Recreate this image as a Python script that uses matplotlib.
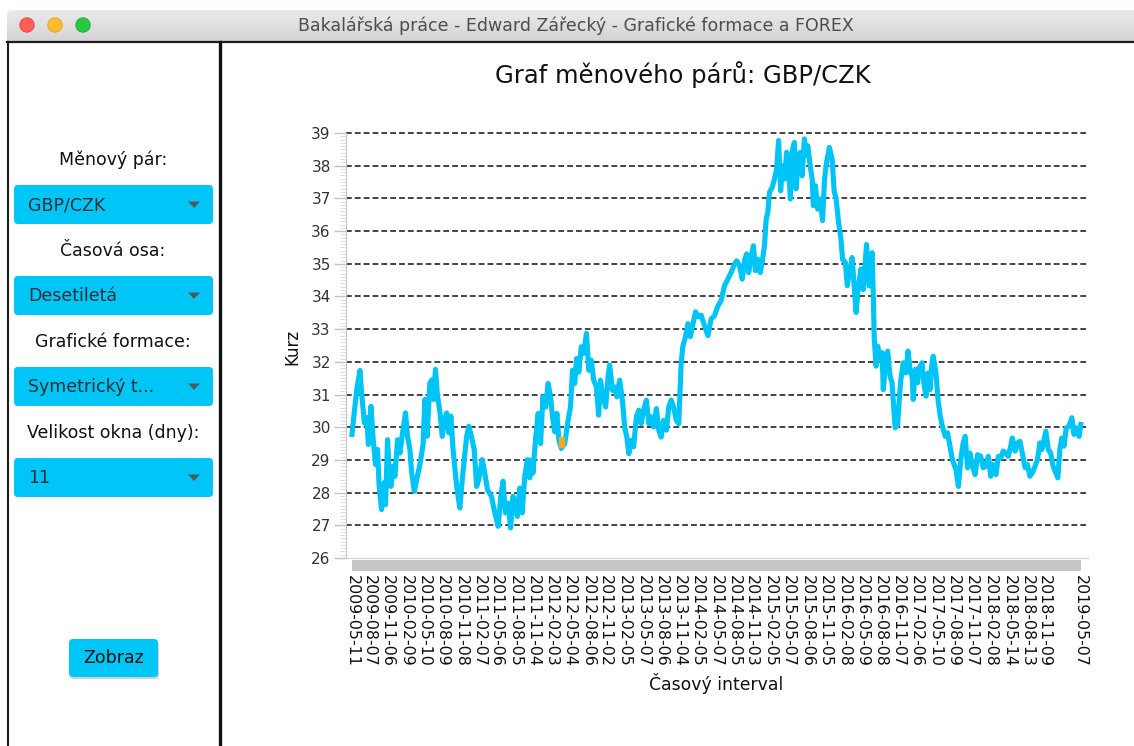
import numpy as np
import pandas as pd
import matplotlib
matplotlib.use('Agg')
import matplotlib.pyplot as plt
import matplotlib.transforms as mtransforms
from matplotlib.patches import FancyBboxPatch, Circle, Polygon, Rectangle
from matplotlib.colors import LinearSegmentedColormap
from matplotlib.ticker import MultipleLocator

# kurz GBP/CZK (dny od prvniho data)
start = pd.Timestamp('2009-05-11')
day_offsets = [
    0, 12, 24, 40, 48, 62, 74, 82, 95, 106,
    118, 128, 136, 148, 160, 168, 178, 185, 195, 206,
    215, 228, 240, 252, 268, 278, 290, 298, 312, 324,
    340, 356, 365, 376, 390, 402, 408, 418, 428, 440,
    452, 462, 474, 485, 495, 506, 524, 540, 552, 562,
    574, 585, 598, 612, 624, 635, 652, 665, 678, 698,
    715, 732, 745, 756, 768, 782, 794, 806, 818, 828,
    840, 852, 865, 878, 890, 898, 906, 920, 932, 944,
    956, 970, 982, 994, 1004, 1015, 1026, 1036, 1048, 1065,
    1082, 1094, 1104, 1115, 1124, 1136, 1148, 1160, 1174, 1186,
    1198, 1210, 1224, 1235, 1244, 1256, 1270, 1282, 1290, 1304,
    1315, 1326, 1340, 1354, 1365, 1376, 1386, 1398, 1410, 1424,
    1436, 1448, 1460, 1474, 1486, 1498, 1510, 1524, 1536, 1548,
    1560, 1574, 1586, 1598, 1610, 1624, 1636, 1648, 1656, 1670,
    1682, 1694, 1706, 1720, 1732, 1748, 1760, 1782, 1798, 1815,
    1832, 1848, 1865, 1882, 1898, 1915, 1926, 1940, 1954, 1965,
    1976, 1986, 1998, 2010, 2020, 2032, 2044, 2056, 2065, 2074,
    2082, 2090, 2104, 2115, 2126, 2136, 2146, 2156, 2166, 2176,
    2186, 2195, 2204, 2215, 2224, 2234, 2244, 2254, 2265, 2274,
    2282, 2294, 2304, 2310, 2320, 2332, 2344, 2356, 2366, 2376,
    2390, 2404, 2414, 2424, 2436, 2448, 2456, 2470, 2480, 2490,
    2504, 2514, 2524, 2536, 2548, 2560, 2576, 2590, 2604, 2610,
    2615, 2624, 2632, 2644, 2654, 2660, 2670, 2682, 2694, 2704,
    2714, 2720, 2732, 2740, 2748, 2760, 2774, 2784, 2794, 2804,
    2810, 2820, 2832, 2840, 2854, 2865, 2874, 2884, 2894, 2904,
    2910, 2924, 2934, 2945, 2956, 2970, 2982, 2994, 3006, 3024,
    3036, 3048, 3060, 3070, 3082, 3094, 3106, 3120, 3132, 3148,
    3160, 3174, 3186, 3198, 3210, 3224, 3236, 3248, 3260, 3274,
    3286, 3298, 3306, 3320, 3332, 3344, 3356, 3370, 3382, 3394,
    3406, 3420, 3432, 3444, 3454, 3465, 3474, 3486, 3498, 3510,
    3524, 3534, 3544, 3554, 3565, 3576, 3590, 3604, 3615, 3626,
    3640, 3649,
]
kurz = [
    29.78, 30.49, 31.15, 31.74, 31.05, 30.13, 30.29, 29.47, 30.64, 29.62,
    28.86, 29.32, 28.19, 27.48, 28.30, 27.63, 29.62, 28.81, 28.19, 28.81,
    28.50, 29.62, 29.21, 29.78, 30.44, 29.72, 29.32, 28.65, 28.04, 28.40,
    28.86, 29.47, 30.85, 29.72, 31.36, 31.46, 30.85, 31.77, 30.95, 30.49,
    29.72, 30.23, 30.44, 29.83, 30.34, 29.32, 28.19, 27.53, 28.40, 29.01,
    29.72, 30.03, 29.72, 29.32, 28.19, 28.40, 29.01, 28.60, 28.09, 27.89,
    27.38, 26.97, 27.89, 28.35, 27.38, 27.68, 26.92, 27.89, 27.58, 27.27,
    28.14, 27.38, 28.50, 29.01, 28.45, 28.99, 28.60, 29.70, 30.42, 29.50,
    30.93, 30.62, 31.34, 30.93, 30.32, 29.86, 30.42, 29.60, 29.35, 29.50,
    30.21, 30.62, 31.74, 31.34, 32.10, 31.69, 32.46, 32.26, 32.87, 31.74,
    32.05, 31.44, 31.23, 30.37, 31.44, 30.93, 30.62, 31.54, 31.90, 31.13,
    31.23, 30.93, 31.44, 30.83, 30.01, 29.70, 29.19, 29.60, 29.40, 30.32,
    30.52, 30.11, 30.52, 30.83, 30.11, 30.32, 30.01, 30.57, 29.91, 29.70,
    30.21, 29.91, 30.62, 30.83, 30.62, 30.21, 30.11, 31.95, 32.46, 32.77,
    33.17, 32.77, 33.12, 33.53, 33.38, 33.43, 33.20, 32.80, 33.31, 33.41,
    33.71, 33.87, 34.33, 34.53, 34.73, 34.99, 35.09, 34.94, 34.53, 35.09,
    35.30, 34.73, 35.19, 35.55, 34.79, 35.14, 34.73, 35.14, 35.55, 36.37,
    36.57, 37.18, 37.34, 37.59, 37.90, 38.77, 37.23, 38.00, 37.59, 38.41,
    37.90, 36.98, 38.46, 38.71, 37.29, 38.20, 38.41, 37.69, 38.82, 38.31,
    38.61, 38.00, 37.59, 36.78, 37.39, 36.67, 36.98, 36.32, 37.59, 38.10,
    38.56, 38.20, 37.23, 36.98, 36.27, 35.76, 35.14, 35.04, 34.33, 34.73,
    35.19, 34.33, 33.51, 34.33, 34.84, 34.21, 35.59, 34.32, 35.34, 34.01,
    32.68, 31.87, 32.48, 32.07, 32.28, 31.15, 31.87, 32.33, 31.56, 31.36,
    30.44, 29.98, 30.08, 30.85, 31.46, 31.97, 31.66, 32.33, 31.77, 31.56,
    30.85, 31.77, 31.36, 31.82, 31.97, 31.26, 30.95, 31.66, 31.15, 31.97,
    32.17, 31.66, 30.85, 30.34, 30.03, 29.72, 29.83, 29.42, 29.01, 28.70,
    28.19, 29.01, 29.52, 29.72, 28.76, 29.21, 28.81, 28.55, 29.16, 29.11,
    28.76, 28.81, 29.11, 28.50, 28.86, 28.55, 29.11, 29.06, 29.27, 29.21,
    29.11, 29.42, 29.67, 29.27, 29.52, 29.57, 29.21, 28.76, 28.86, 28.50,
    28.60, 28.81, 29.01, 29.52, 29.32, 29.62, 29.88, 29.32, 29.21, 28.81,
    28.60, 28.45, 29.32, 29.67, 29.42, 29.98, 30.03, 30.29, 29.78, 29.98,
    29.72, 30.08,
]
# nalezena formace (oranzova znacka)
pattern_day = 1052
pattern_kurz = [29.38, 29.70]

tick_labels = [
    '2009-05-11', '2009-08-07', '2009-11-06', '2010-02-09', '2010-05-10',
    '2010-08-09', '2010-11-08', '2011-02-07', '2011-05-06', '2011-08-05',
    '2011-11-04', '2012-02-03', '2012-05-04', '2012-08-06', '2012-11-02',
    '2013-02-05', '2013-05-07', '2013-08-06', '2013-11-04', '2014-02-05',
    '2014-05-07', '2014-08-05', '2014-11-03', '2015-02-05', '2015-05-07',
    '2015-08-06', '2015-11-05', '2016-02-08', '2016-05-09', '2016-08-08',
    '2016-11-07', '2017-02-06', '2017-05-10', '2017-08-09', '2017-11-07',
    '2018-02-08', '2018-05-14', '2018-08-13', '2018-11-09', '2019-05-07',
]
y_ticks = list(range(26, 40))

window_title = 'Bakalářská práce - Edward Zářecký - Grafické formace a FOREX'
side_labels = ['Měnový pár:', 'Časová osa:', 'Grafické formace:', 'Velikost okna (dny):']
combo_values = ['GBP/CZK', 'Desetiletá', 'Symetrický t...', '11']

CYAN = '#00c6f8'
LINE = '#00c4f6'

assert len(day_offsets) == len(kurz)
dates = start + pd.to_timedelta(day_offsets, unit='D')
tick_dates = pd.to_datetime(tick_labels)

fig = plt.figure(figsize=(11.34, 7.46), dpi=100)
fig.patch.set_facecolor('white')

# okno aplikace (pixelove souradnice)
bg = fig.add_axes([0, 0, 1, 1], zorder=0)
bg.set_xlim(0, 1134)
bg.set_ylim(746, 0)
bg.axis('off')

bar = FancyBboxPatch((7, 10), 1140, 45, boxstyle='round,pad=0,rounding_size=6',
                     fc='none', ec='none', transform=bg.transData)
bg.add_patch(bar)
grad = np.linspace(0, 1, 40).reshape(-1, 1)
tb_cmap = LinearSegmentedColormap.from_list('tb', ['#ebe9eb', '#d4d2d4'])
im = bg.imshow(grad, extent=[7, 1134, 42, 10], aspect='auto', cmap=tb_cmap, zorder=1)
im.set_clip_path(bar)

for cx, fc, ec in [(27, '#fe5f57', '#e1443e'), (55, '#febc2e', '#dea123'), (83, '#28c840', '#1aab29')]:
    bg.add_patch(Circle((cx, 25), 7.2, fc=fc, ec=ec, lw=0.6, zorder=3))
bg.text(576, 26, window_title, ha='center', va='center', fontsize=12.5, color='#4d4d4d', zorder=3)

bg.plot([7, 1134], [42, 42], color='#1c1c1c', lw=1.6, zorder=3)
bg.plot([8, 8], [42, 746], color='#1c1c1c', lw=1.5, zorder=3)
bg.plot([220, 220], [42, 746], color='#111111', lw=2.4, zorder=3)

# levy panel
for i, (lab, val) in enumerate(zip(side_labels, combo_values)):
    y0 = 185 + i * 91
    bg.text(113, y0 - 25, lab, ha='center', va='center', fontsize=12.5, color='#111111')
    bg.add_patch(FancyBboxPatch((14, y0), 199, 39, boxstyle='round,pad=0,rounding_size=4',
                                fc=CYAN, ec='none', zorder=2))
    bg.text(28, y0 + 20, val, ha='left', va='center', fontsize=12.5, color='#2b2f33', zorder=3)
    bg.add_patch(Polygon([(188, y0 + 16.5), (200, y0 + 16.5), (194, y0 + 23)],
                         closed=True, fc='#4b5a63', ec='none', zorder=3))

bg.add_patch(FancyBboxPatch((70, 641), 89, 38, boxstyle='round,pad=0,rounding_size=4',
                            fc='black', ec='none', alpha=0.18, zorder=2))
bg.add_patch(FancyBboxPatch((69, 639), 89, 38, boxstyle='round,pad=0,rounding_size=4',
                            fc=CYAN, ec='none', zorder=2))
bg.text(113.5, 658, 'Zobraz', ha='center', va='center', fontsize=12.5, color='#111111', zorder=3)

# graf
bg.text(683, 75, 'Graf měnového párů: GBP/CZK', ha='center', va='center', fontsize=17.5, color='#111111')
bg.text(292, 347, 'Kurz', ha='center', va='center', rotation=90, fontsize=12, color='#111111')
bg.text(716, 684, 'Časový interval', ha='center', va='center', fontsize=12.4, color='#111111')

ax = fig.add_axes([346 / 1134, 1 - 558 / 746, 742 / 1134, 425 / 746], zorder=2)
ax.patch.set_alpha(0)

ax.plot(dates, kurz, color=LINE, lw=3.7, solid_joinstyle='round', zorder=3)
ax.plot([start + pd.Timedelta(days=pattern_day)] * 2, pattern_kurz, color='#f5a623',
        lw=4.5, solid_capstyle='butt', zorder=4)

ax.set_ylim(26, 39)
ax.set_xlim(start - pd.Timedelta(days=30), start + pd.Timedelta(days=3685))
ax.set_yticks(y_ticks)
ax.yaxis.set_minor_locator(MultipleLocator(0.1))
ax.set_xticks(tick_dates)
ax.set_xticklabels(tick_labels, rotation=-90, ha='center', va='top')

ax.grid(axis='y', which='major', color='#363636', lw=1.3, ls=(0, (3.2, 1.7)))
ax.get_ygridlines()[0].set_visible(False)
for gl in ax.get_ygridlines():
    gl.set_clip_on(False)

for s in ['top', 'right']:
    ax.spines[s].set_visible(False)
ax.spines['left'].set_color('#c6c6c6')
ax.spines['bottom'].set_color('#d0d0d0')
ax.tick_params(axis='y', which='major', length=9, width=1, color='#c2c2c2',
               labelsize=11, labelcolor='#333333', pad=2)
ax.tick_params(axis='y', which='minor', length=4, width=0.5, color='#d2d2d2')
ax.tick_params(axis='x', length=0, pad=12, labelsize=11.4, labelcolor='#111111')

# husta kategoricka osa -> sedy pruh pod grafem
trans = mtransforms.blended_transform_factory(ax.transData, ax.transAxes)
x0 = matplotlib.dates.date2num(dates[0])
x1 = matplotlib.dates.date2num(dates[-1])
ax.add_patch(Rectangle((x0, -13 / 425), x1 - x0, 11.5 / 425, transform=trans,
                       fc='#c6c6c6', ec='none', clip_on=False, zorder=2))

fig.savefig('out.png', dpi=100)
